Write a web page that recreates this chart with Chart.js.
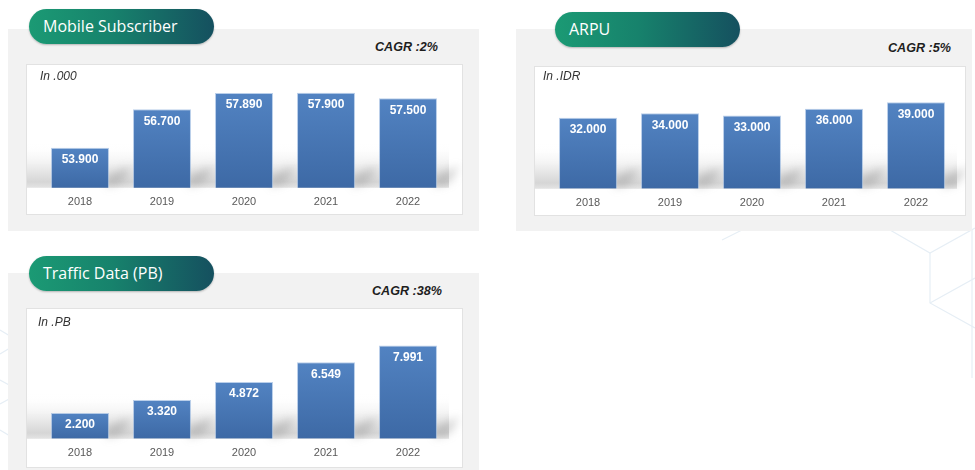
<!DOCTYPE html>
<html>
<head>
<meta charset="utf-8">
<script src="https://cdn.jsdelivr.net/npm/chart.js@4"></script>
<style>
  html, body { margin: 0; padding: 0; background: #fff; }
  body { width: 975px; height: 470px; position: relative; overflow: hidden; font-family: Arial, "Liberation Sans", sans-serif; }
  .deco { position: absolute; left: 0; top: 0; }
  .panel { position: absolute; background: #f2f2f2; }
  .badge {
    position: absolute; height: 35px; border-radius: 18px;
    background: linear-gradient(90deg, #1b9a74 0%, #17826c 45%, #15505f 100%);
    box-shadow: 0 1px 2px rgba(0,0,0,0.25);
    color: #fff; font-family: "Open Sans", "Noto Sans", sans-serif; font-size: 16px;
    line-height: 35px; padding-left: 14px; box-sizing: border-box;
  }
  .cagr { position: absolute; font: italic bold 12.6px Arial, "Liberation Sans", sans-serif; color: #1e1e1e; text-align: right; }
  .box { position: absolute; border: 1px solid #e2e2e2; box-sizing: border-box; background: #fff; }
  .unit { position: absolute; z-index: 2; font: italic 12px Arial, "Liberation Sans", sans-serif; color: #333; }
  .box canvas { position: absolute; left: -1px; top: -1px; z-index: 1; }
</style>
</head>
<body>
<svg class="deco" width="975" height="470">
  <g fill="none" stroke="#e6eef5" stroke-width="1.2">
    <polyline points="722,240 742,230"/>
    <polyline points="890,230 930,253 975,228"/>
    <polyline points="930,253 930,303 975,328"/>
    <polyline points="930,303 975,278"/>
    <polyline points="972,230 972,378"/>
    <polyline points="0,330 20,342 0,354"/>
    <polyline points="0,380 22,392 0,404"/>
    <polyline points="0,430 20,442"/>
  </g>
</svg>

<div class="panel" style="left:8px; top:29px; width:471px; height:202px;"></div>
<div class="panel" style="left:516px; top:29px; width:456px; height:202px;"></div>
<div class="panel" style="left:8px; top:273px; width:471px; height:200px;"></div>

<div class="badge" style="left:29px; top:9px; width:185px;">Mobile Subscriber</div>
<div class="badge" style="left:555px; top:12px; width:185px;">ARPU</div>
<div class="badge" style="left:29px; top:256px; width:185px;">Traffic Data (PB)</div>

<div class="cagr" style="left:340px; top:40px; width:98px;">CAGR :2%</div>
<div class="cagr" style="left:852px; top:41px; width:99px;">CAGR :5%</div>
<div class="cagr" style="left:340px; top:284px; width:102px;">CAGR :38%</div>

<div class="box" id="box1" style="left:26px; top:64px; width:437px; height:151px;">
  <div class="unit" style="left:13px; top:4px;">In .000</div>
  <canvas id="subsChart" width="437" height="154"></canvas>
</div>
<div class="box" id="box2" style="left:534px; top:66px; width:432px; height:150px;">
  <div class="unit" style="left:8px; top:2px;">In .IDR</div>
  <canvas id="arpuChart" width="432" height="153"></canvas>
</div>
<div class="box" id="box3" style="left:26px; top:308px; width:437px; height:160px;">
  <div class="unit" style="left:11px; top:6px;">In .PB</div>
  <canvas id="trafficChart" width="437" height="163"></canvas>
</div>

<script>
const years = ["2018", "2019", "2020", "2021", "2022"];
const subscribers = [53900, 56700, 57890, 57900, 57500];
const arpu = [32000, 34000, 33000, 36000, 39000];
const traffic = [2200, 3320, 4872, 6549, 7991];

// dot as thousands separator, like the source
function fmt(v) {
  return String(v).replace(/\B(?=(\d{3})+(?!\d))/g, ".");
}

// grey "floor" behind the bars, placed from the chart area
const floorPlugin = {
  id: "floor",
  beforeDatasetsDraw(chart) {
    const { ctx, chartArea: a } = chart;
    const top = a.bottom - 45;
    const g = ctx.createLinearGradient(0, top, 0, a.bottom + 1);
    g.addColorStop(0, "rgba(255,255,255,0)");
    g.addColorStop(0.5, "#eeeeee");
    g.addColorStop(0.85, "#d6d6d6");
    g.addColorStop(1, "#e6e6e6");
    ctx.save();
    ctx.fillStyle = g;
    ctx.fillRect(1, top, a.right - 1, a.bottom - top);

    // soft shadow falling to the right of each bar
    ctx.filter = "blur(4px)";
    ctx.fillStyle = "rgba(120,120,120,0.3)";
    chart.getDatasetMeta(0).data.forEach(bar => {
      const right = bar.x + bar.width / 2;
      ctx.beginPath();
      ctx.moveTo(right - 2, a.bottom);
      ctx.lineTo(right - 2, a.bottom - 12);
      ctx.lineTo(right + 22, a.bottom - 22);
      ctx.lineTo(right + 14, a.bottom - 6);
      ctx.closePath();
      ctx.fill();
    });
    ctx.restore();
  }
};

const valuePlugin = {
  id: "values",
  afterDatasetsDraw(chart) {
    const { ctx } = chart;
    const vals = chart.data.datasets[0].data;
    ctx.save();
    ctx.fillStyle = "#ffffff";
    ctx.font = "bold 12px Arial, 'Liberation Sans', sans-serif";
    ctx.textAlign = "center";
    ctx.textBaseline = "middle";
    chart.getDatasetMeta(0).data.forEach((bar, i) => {
      ctx.fillText(fmt(vals[i]), bar.x, bar.y + 12);
    });
    ctx.restore();
  }
};

function barFill(context) {
  const chart = context.chart;
  const a = chart.chartArea;
  if (!a || !chart.scales.y) return "#4a7aba";
  const top = chart.scales.y.getPixelForValue(context.raw);
  const g = chart.ctx.createLinearGradient(0, top, 0, a.bottom);
  g.addColorStop(0, "#5283c2");
  g.addColorStop(1, "#3d69a5");
  return g;
}

function makeChart(id, values, yMin, yMax, pad) {
  new Chart(document.getElementById(id), {
    type: "bar",
    data: {
      labels: years,
      datasets: [{
        data: values,
        backgroundColor: barFill,
        borderColor: "rgba(140,175,220,0.6)",
        borderWidth: 1,
        borderSkipped: "bottom",
        categoryPercentage: 1,
        barPercentage: 0.707
      }]
    },
    options: {
      responsive: false,
      animation: false,
      layout: { padding: pad },
      plugins: { legend: { display: false }, tooltip: { enabled: false } },
      scales: {
        x: {
          grid: { display: false, drawTicks: false },
          border: { display: false },
          ticks: { color: "#595959", padding: 8, font: { family: "Arial, 'Liberation Sans', sans-serif", size: 11 } }
        },
        y: { display: false, min: yMin, max: yMax }
      }
    },
    plugins: [floorPlugin, valuePlugin]
  });
}

makeChart("subsChart", subscribers, 51000, 58830, { left: 13, right: 14, top: 16, bottom: 1 });
makeChart("arpuChart", arpu, 0, 49000, { left: 13, right: 9, top: 14, bottom: 1 });
makeChart("trafficChart", traffic, 0, 10000, { left: 13, right: 14, top: 14, bottom: 3 });
</script>
</body>
</html>
